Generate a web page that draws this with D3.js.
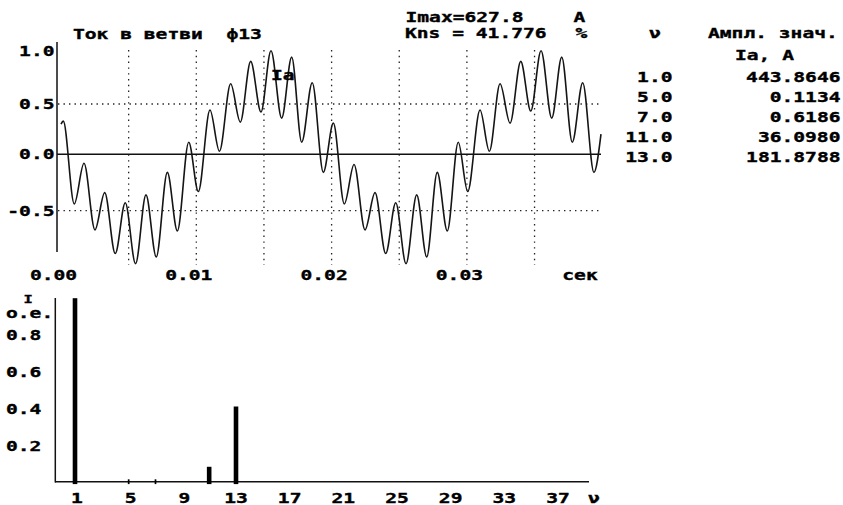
<!DOCTYPE html>
<html>
<head>
<meta charset="utf-8">
<script src="https://cdn.jsdelivr.net/npm/d3@7"></script>
<style>
  html, body { margin: 0; padding: 0; background: #fff; }
  svg { display: block; }
  text { font-family: "DejaVu Sans Mono", "Liberation Mono", monospace; font-weight: bold; font-size: 14px; fill: #000; stroke: #000; stroke-width: 0.35px; white-space: pre; }
</style>
</head>
<body>
<svg id="chart" width="843" height="505"></svg>
<script>
// Branch current Ia over two periods (per-unit of Imax)
const waveT = [0, 0.00017, 0.00098, 0.00170, 0.00251, 0.00323, 0.00401, 0.00475, 0.00551, 0.00628,
  0.00704, 0.00786, 0.00860, 0.00944, 0.01015, 0.01101, 0.01171, 0.01254, 0.01325, 0.01402,
  0.01478, 0.01552, 0.01631, 0.01705, 0.01779, 0.01857, 0.01939, 0.02013, 0.02094, 0.02166,
  0.02247, 0.02321, 0.02400, 0.02474, 0.02550, 0.02629, 0.02703, 0.02781, 0.02855, 0.02936,
  0.03006, 0.03097, 0.03166, 0.03245, 0.03319, 0.03398, 0.03472, 0.03548, 0.03627, 0.03701,
  0.03779, 0.03856, 0.03939, 0.03991];
const waveI = [0.30, 0.33, -0.44, -0.08, -0.67, -0.34, -0.88, -0.43, -0.97, -0.36,
  -0.91, -0.16, -0.68, 0.12, -0.33, 0.44, 0.03, 0.69, 0.32, 0.90,
  0.42, 1.00, 0.36, 0.94, 0.12, 0.70, -0.16, 0.31, -0.44, -0.09,
  -0.67, -0.34, -0.88, -0.43, -0.97, -0.36, -0.91, -0.16, -0.68, 0.12,
  -0.33, 0.44, 0.03, 0.69, 0.31, 0.90, 0.43, 1.00, 0.36, 0.94,
  0.12, 0.70, -0.16, 0.20];

// Harmonic content: order and amplitude, A
const harmonics = [1, 5, 7, 11, 13];
const amplitudes = [443.8646, 0.1134, 0.6186, 36.0980, 181.8788];
const harmonicLabels = ["1.0", "5.0", "7.0", "11.0", "13.0"];
const amplitudeLabels = ["443.8646", "0.1134", "0.6186", "36.0980", "181.8788"];

// Axis ticks
const timeTicks = [0, 0.01, 0.02, 0.03];
const timeTickLabels = ["0.00", "0.01", "0.02", "0.03"];
const timeGrid = [0.005, 0.01, 0.015, 0.02, 0.025, 0.03, 0.035];
const levelTicks = [1.0, 0.5, 0.0, -0.5];
const levelTickLabels = ["1.0", "0.5", "0.0", "-0.5"];
const levelGrid = [0.5, -0.5];
const orderTicks = [1, 5, 9, 13, 17, 21, 25, 29, 33, 37];
const shareTicks = [0.8, 0.6, 0.4, 0.2];
const shareTickLabels = ["0.8", "0.6", "0.4", "0.2"];

// Header texts
const titleText = "Ток в ветви  ф13";
const imaxText = "Imax=627.8";
const knsText = "Kns = 41.776";

const svg = d3.select("#chart");
const ADV = 11.8; // character pitch of the wide terminal font

function txt(g, str, x, y, anchor, size) {
  const adv = ADV * (size ? size / 14 : 1);
  const len = str.length * adv;
  let x0 = x;
  if (anchor === "end") x0 = x - len;
  else if (anchor === "middle") x0 = x - len / 2;
  const t = g.append("text")
    .attr("x", x0).attr("y", y)
    .attr("xml:space", "preserve")
    .attr("textLength", len)
    .attr("lengthAdjust", "spacingAndGlyphs")
    .text(str);
  if (size) t.style("font-size", size + "px");
  return t;
}

// ---------- waveform panel ----------
const xt = d3.scaleLinear().domain([0, 0.04]).range([61, 602.2]);
const yi = d3.scaleLinear().domain([-0.5, 0, 0.5, 1]).range([210.7, 154.3, 104, 50.7]);

const wavePanel = svg.append("g");

wavePanel.selectAll("line.vgrid").data(timeGrid).join("line")
  .attr("class", "vgrid")
  .attr("x1", d => xt(d)).attr("x2", d => xt(d))
  .attr("y1", 50).attr("y2", 265)
  .attr("stroke", "#222").attr("stroke-width", 1.3)
  .attr("stroke-dasharray", "1.4 4.4");

wavePanel.selectAll("line.hgrid").data(levelGrid).join("line")
  .attr("class", "hgrid")
  .attr("x1", 58).attr("x2", 602)
  .attr("y1", d => yi(d)).attr("y2", d => yi(d))
  .attr("stroke", "#222").attr("stroke-width", 1.3)
  .attr("stroke-dasharray", "1.4 4.1");

// axes
wavePanel.append("line").attr("x1", 57).attr("x2", 57).attr("y1", 42).attr("y2", 252)
  .attr("stroke", "#111").attr("stroke-width", 1.5);
wavePanel.append("line").attr("x1", 57).attr("x2", 601).attr("y1", yi(0)).attr("y2", yi(0))
  .attr("stroke", "#111").attr("stroke-width", 1.5);

const line = d3.line().x(d => xt(d[0])).y(d => yi(d[1])).curve(d3.curveMonotoneX);
wavePanel.append("path")
  .datum(waveT.map((t, i) => [t, waveI[i]]))
  .attr("d", line)
  .attr("fill", "none")
  .attr("stroke", "#151515")
  .attr("stroke-width", 1.6);

levelTicks.forEach((v, i) => txt(wavePanel, levelTickLabels[i], 54.5, yi(v) + 5, "end"));
timeTicks.forEach((t, i) => txt(wavePanel, timeTickLabels[i], xt(t) - 7.5, 280, "middle"));
txt(wavePanel, "сек", 580, 280, "middle");

txt(wavePanel, titleText, 73, 38.5, "start");
txt(wavePanel, "Ia", 271, 80, "start");
txt(wavePanel, imaxText, 405.5, 21.7, "start");
txt(wavePanel, "A", 573.5, 21.7, "start");
txt(wavePanel, knsText, 405, 38.3, "start");
txt(wavePanel, "%", 575.5, 38.3, "start");

// ---------- harmonic table ----------
const tbl = svg.append("g");
txt(tbl, "ν", 655, 38.3, "middle");
txt(tbl, "Ампл. знач.", 708, 38.3, "start");
txt(tbl, "Ia, A", 735, 60, "start");
harmonics.forEach((h, i) => {
  const by = 81.7 + i * 20;
  txt(tbl, harmonicLabels[i], 672.5, by, "end");
  txt(tbl, amplitudeLabels[i], 840.5, by, "end");
});

// ---------- spectrum panel ----------
const xh = d3.scaleLinear().domain([1, 37]).range([75, 558]);
const yr = d3.scaleLinear().domain([0, 1]).range([481.7, 298.2]);
const specPanel = svg.append("g");

specPanel.append("line").attr("x1", 55.3).attr("x2", 55.3).attr("y1", 298).attr("y2", 482.5)
  .attr("stroke", "#111").attr("stroke-width", 1.5);
specPanel.append("line").attr("x1", 55).attr("x2", 589).attr("y1", yr(0)).attr("y2", yr(0))
  .attr("stroke", "#111").attr("stroke-width", 1.5);

const fundamental = amplitudes[0];
const bars = harmonics.map((h, i) => ({ h, v: amplitudes[i] / fundamental }));
const tiny = d => (yr(0) - yr(d.v)) < 2;
specPanel.selectAll("rect.bar").data(bars).join("rect")
  .attr("class", "bar")
  .attr("x", d => xh(d.h) - (tiny(d) ? 0.85 : 2.3))
  .attr("width", d => (tiny(d) ? 1.7 : 4.6))
  .attr("y", d => Math.min(yr(d.v), yr(0) - 2.4))
  .attr("height", d => yr(0) + 2.4 - Math.min(yr(d.v), yr(0) - 2.4))
  .attr("fill", "#000");

shareTicks.forEach((v, i) => txt(specPanel, shareTickLabels[i], 6, yr(v) + 5.5, "start"));
txt(specPanel, "I", 23.5, 303, "start", 11);
txt(specPanel, "o.e.", 6, 317.5, "start");
orderTicks.forEach(h => txt(specPanel, String(h), xh(h) + (h < 10 ? 2 : 0), 503, "middle"));
txt(specPanel, "ν", 594, 503, "middle");
</script>
</body>
</html>
